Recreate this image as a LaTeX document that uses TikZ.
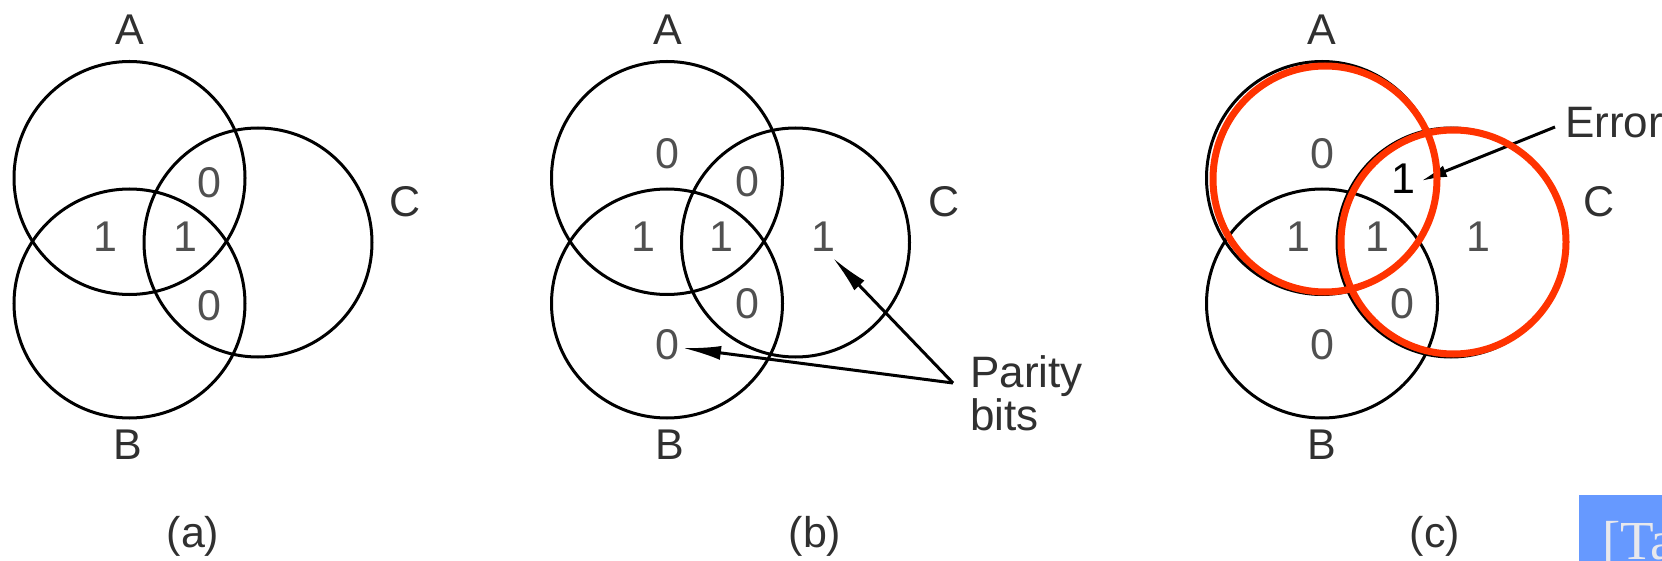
\documentclass[tikz,border=0pt]{standalone}
\usepackage{fontspec}
\setmainfont{Liberation Sans}
\newfontfamily\serifTa{Liberation Serif}
\usetikzlibrary{arrows.meta}
\definecolor{errred}{HTML}{FF3300}
\definecolor{boxblue}{HTML}{6699FF}
\definecolor{txtgray}{HTML}{505050}
\definecolor{lblgray}{HTML}{303030}
\definecolor{talight}{HTML}{E8E8EC}
\begin{document}
\begin{tikzpicture}[x=1pt,y=-1pt,
  ring/.style={draw=black, line width=3pt},
  redring/.style={draw=errred, line width=7pt},
  digit/.style={font=\fontsize{43}{48}\selectfont, text=txtgray, inner sep=0pt, anchor=base},
  lbl/.style={font=\fontsize{43}{48}\selectfont, text=lblgray, inner sep=0pt, anchor=base},
  note/.style={font=\fontsize{44}{48}\selectfont, text=lblgray, inner sep=0pt, anchor=base west},
  ptr/.style={draw=black, line width=3pt, -{Latex[length=38pt,width=14pt]}},
]
\useasboundingbox (0,0) rectangle (1662,561);
\clip (0,0) rectangle (1662,561);

% ---------- panel (a) ----------
\draw[ring] (129.5,178) ellipse [x radius=115.5pt, y radius=116.5pt];
\draw[ring] (129.5,303.5) ellipse [x radius=115.5pt, y radius=114.5pt];
\draw[ring] (258,242.5) ellipse [x radius=114pt, y radius=114.5pt];
\node[lbl] (aA) at (130,45) {A};
\node[lbl] (aB) at (128,459) {B};
\node[lbl] (aC) at (405,217) {C};
\node[digit] (a1) at (209,198) {0};
\node[digit] (a2) at (105,252) {1};
\node[digit] (a3) at (185,252) {1};
\node[digit] (a4) at (209,320) {0};
\node[lbl] (acap) at (193,547) {(a)};

% ---------- panel (b) ----------
\draw[ring] (667,178) ellipse [x radius=115.5pt, y radius=116.5pt];
\draw[ring] (667,303.5) ellipse [x radius=115.5pt, y radius=114.5pt];
\draw[ring] (795.5,242.5) ellipse [x radius=114pt, y radius=114.5pt];
\node[lbl] (bA) at (668,45) {A};
\node[lbl] (bB) at (670,459) {B};
\node[lbl] (bC) at (944,217) {C};
\node[digit] (b1) at (667.5,169) {0};
\node[digit] (b2) at (747.5,197) {0};
\node[digit] (b3) at (643,252) {1};
\node[digit] (b4) at (721.5,252) {1};
\node[digit] (b5) at (823,252) {1};
\node[digit] (b6) at (747.5,319) {0};
\node[digit] (b7) at (667.5,359) {0};
\node[note] (par) at (970,387) {Parity};
\node[note] (bits) at (970,430) {bits};
\coordinate (pj) at (953,383);
\coordinate (tipC) at (833,258);
\coordinate (tipB) at (683,348);
\draw[ptr] (pj) -- (tipC);
\draw[ptr] (pj) -- (tipB);
\node[lbl] (bcap) at (815,547) {(b)};

% ---------- panel (c) ----------
\draw[ring] (1322,178) ellipse [x radius=115.5pt, y radius=116.5pt];
\draw[ring] (1322,303.5) ellipse [x radius=115.5pt, y radius=114.5pt];
\draw[ring] (1451,242.5) ellipse [x radius=114pt, y radius=114.5pt];
\node[lbl] (cA) at (1322,45) {A};
\node[lbl] (cB) at (1322,459) {B};
\node[lbl] (cC) at (1599,217) {C};
\node[digit] (c1) at (1322,169) {0};
\node[digit, text=black] (c2) at (1403,194) {1};
\node[digit] (c3) at (1298,252) {1};
\node[digit] (c4) at (1377.5,252) {1};
\node[digit] (c5) at (1478,252) {1};
\node[digit] (c6) at (1402.5,319) {0};
\node[digit] (c7) at (1322,359) {0};
\node[note] (err) at (1565,138) {Error};
\coordinate (ej) at (1555,127);
\coordinate (tipE) at (1421,181);
\draw[ptr, -{Latex[length=26pt,width=12pt]}] (ej) -- (tipE);
\draw[redring] (1325,179) ellipse [x radius=112pt, y radius=113pt];
\draw[redring] (1453.5,242) ellipse [x radius=112.5pt, y radius=112pt];
\node[lbl] (ccap) at (1435,547) {(c)};

% ---------- corner tag ----------
\fill[boxblue] (1579,495) rectangle (1662,561);
\node[font=\serifTa\fontsize{55}{60}\selectfont, text=talight, inner sep=0pt, anchor=base west] (tag) at (1602,559) {[Ta};
\end{tikzpicture}
\end{document}
